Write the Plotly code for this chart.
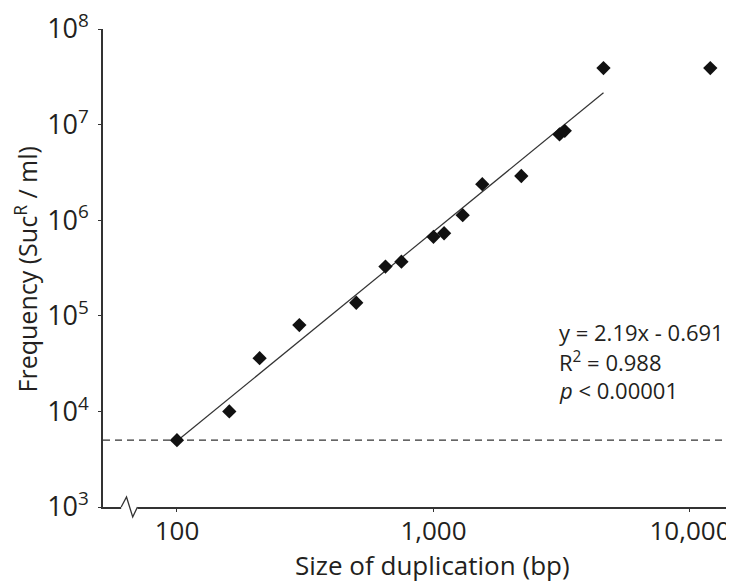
import plotly.graph_objects as go

# duplication size (bp) vs SucR frequency per ml
dup_size = [100, 160, 210, 300, 500, 650, 750, 1000, 1100, 1300, 1550, 2200, 3100, 3250, 4600, 12000]
frequency = [5000, 10000, 36000, 80000, 137000, 327000, 368000, 670000, 730000,
             1130000, 2380000, 2900000, 7900000, 8600000, 39000000, 39000000]

# fitted line y = 2.19x - 0.691 (log-log), drawn between these end points
fit_x = [100, 4600]
fit_y = [4900, 21500000]

detection_limit = 5000

x_tickvals = [100, 1000, 10000]
x_ticktext = ["100", "1,000", "10,000"]
y_tickvals = [1e3, 1e4, 1e5, 1e6, 1e7, 1e8]
y_ticktext = ["10<sup>%d</sup>" % p for p in range(3, 9)]

x_range = [1.7117, 4.156]
y_range = [3, 8]

FONT = "Open Sans"
TXT = "#231f20"

fig = go.Figure()

# dashed detection limit line across the whole plot
fig.add_trace(go.Scatter(
    x=[10 ** x_range[0], 10 ** x_range[1]], y=[detection_limit, detection_limit],
    mode="lines", line=dict(color="#333333", width=1.3, dash="7px,5px"),
    hoverinfo="skip", showlegend=False))

# regression line
fig.add_trace(go.Scatter(
    x=fit_x, y=fit_y, mode="lines",
    line=dict(color="#333333", width=1.2), showlegend=False))

# data points
fig.add_trace(go.Scatter(
    x=dup_size, y=frequency, mode="markers",
    marker=dict(symbol="diamond", size=11, color="#111111"),
    showlegend=False, cliponaxis=False))

axis_common = dict(showgrid=False, zeroline=False, showline=True, automargin=False,
                   linecolor="#333333", linewidth=1.5, ticks="outside",
                   ticklen=3, tickcolor="#333333", ticklabeloverflow="allow")

fig.update_xaxes(type="log", range=x_range, tickvals=x_tickvals, ticktext=x_ticktext,
                 tickfont=dict(family=FONT, size=26, color=TXT), ticklabelstandoff=-3,
                 **axis_common)
fig.update_yaxes(type="log", range=y_range, tickvals=y_tickvals, ticktext=y_ticktext,
                 tickfont=dict(family=FONT, size=27, color=TXT), ticklabelstandoff=4,
                 **axis_common)

# axis titles
fig.add_annotation(text="Size of duplication (bp)", xref="paper", yref="paper",
                   x=0.526, y=-0.122, xanchor="center", yanchor="middle", showarrow=False,
                   font=dict(family=FONT, size=26, color=TXT))
fig.add_annotation(text="Frequency (Suc<sup>R</sup> / ml)", xref="paper", yref="paper",
                   x=-0.122, y=0.496, xanchor="center", yanchor="middle", showarrow=False,
                   textangle=-90, font=dict(family=FONT, size=25, color=TXT))

# axis break on the x axis: blank a piece of the axis line, then draw the zigzag
fig.add_shape(type="line", xref="paper", yref="paper", x0=0.029, x1=0.055, y0=0, y1=0,
              line=dict(color="white", width=4))
fig.add_shape(type="path", xref="paper", yref="paper",
              path="M 0.029 0 L 0.0375 0.021 L 0.0474 -0.021 L 0.055 0",
              line=dict(color="#333333", width=1.3))

# regression statistics
stats = ["y = 2.19x - 0.691", "R<sup>2</sup> = 0.988", "<i>p</i> < 0.00001"]
for i, txt in enumerate(stats):
    fig.add_annotation(text=txt, xref="paper", yref="paper", x=0.724, y=0.366 - i * 0.061,
                       xanchor="left", yanchor="middle", showarrow=False,
                       font=dict(family=FONT, size=22, color=TXT))

# the page adds an 8px body margin, so the figure is 8px smaller and shifted
fig.update_layout(width=726, height=575, margin=dict(l=95, r=4, t=21, b=76),
                  plot_bgcolor="white", paper_bgcolor="white")

fig.write_html("out.html")
